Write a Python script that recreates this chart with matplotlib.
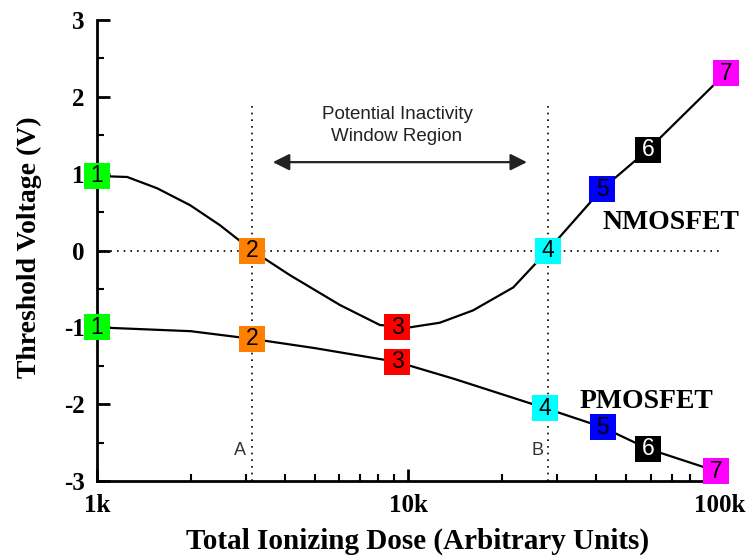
import matplotlib.pyplot as plt

plt.rcParams['axes.unicode_minus'] = False

# dose in k units
nmos_curve_x = [1.0, 1.25, 1.56, 1.99, 2.48, 3.15, 4.16, 6.03, 8.1, 10.1, 12.6, 16.1, 21.7, 28.0, 41.8, 58.7, 104.5]
nmos_curve_y = [0.97, 0.957, 0.81, 0.59, 0.33, 0.0, -0.32, -0.71, -0.97, -1.0, -0.94, -0.78, -0.48, 0.0, 0.80, 1.31, 2.31]
pmos_curve_x = [1.0, 2.0, 3.15, 5.0, 9.19, 14.0, 27.4, 42.0, 58.7, 97.0]
pmos_curve_y = [-1.0, -1.05, -1.15, -1.27, -1.45, -1.67, -2.05, -2.30, -2.58, -2.87]

nmos_pts_x = [1.0, 3.15, 9.19, 28.0, 41.8, 58.7, 104.5]
nmos_pts_y = [0.97, 0.0, -1.0, 0.0, 0.80, 1.31, 2.31]
pmos_pts_x = [1.0, 3.15, 9.19, 27.4, 42.0, 58.7, 97.0]
pmos_pts_y = [-1.0, -1.15, -1.45, -2.05, -2.30, -2.58, -2.87]
pt_labels = ['1', '2', '3', '4', '5', '6', '7']
pt_colors = ['#00ff00', '#ff8000', '#ff0000', '#00ffff', '#0000ff', '#000000', '#ff00ff']
pt_text_colors = ['black', 'black', 'black', 'black', 'black', 'white', 'black']

x_ticks = [1, 10, 100]
x_ticklabels = ['1k', '10k', '100k']
y_ticks = [-3, -2, -1, 0, 1, 2, 3]

line_a = 3.15
line_b = 28.0

fig = plt.figure(figsize=(7.5, 5.57), dpi=100)
ax = fig.add_axes([0.1293, 0.1364, 0.8307, 0.8277])

ax.set_xscale('log')
ax.set_xlim(1, 100)
ax.set_ylim(-3, 3)

# reference lines
dots = dict(color='black', lw=1.2, linestyle=(0, (1, 3)))
ax.plot([1, 100], [0, 0], **dots)
ax.plot([line_a, line_a], [-3, 1.93], **dots)
ax.plot([line_b, line_b], [-3, 1.93], **dots)

ax.plot(nmos_curve_x, nmos_curve_y, color='black', lw=1.6, clip_on=False)
ax.plot(pmos_curve_x, pmos_curve_y, color='black', lw=1.6, clip_on=False)

for xs, ys in [(nmos_pts_x, nmos_pts_y), (pmos_pts_x, pmos_pts_y)]:
    for x, y, lab, c, tc in zip(xs, ys, pt_labels, pt_colors, pt_text_colors):
        ax.plot(x, y, marker='s', markersize=19, color=c, markeredgewidth=0,
                linestyle='none', clip_on=False, zorder=5)
        ax.text(x, y, lab, ha='center', va='center', fontsize=16.5,
                family='Liberation Sans', color=tc, zorder=6, clip_on=False)

# arrow + window text
ax.annotate('', xy=(3.67, 1.15), xytext=(24.0, 1.15),
            arrowprops=dict(arrowstyle='<|-|>', color='#222222', lw=1.6,
                            mutation_scale=25, shrinkA=0, shrinkB=0))
ax.text(9.19, 1.63, 'Potential Inactivity\nWindow Region', ha='center', va='center',
        fontsize=13.5, family='Liberation Sans', color='#222222', linespacing=1.35)

ax.text(2.88, -2.6, 'A', ha='center', va='center', fontsize=13,
        family='Liberation Sans', color='#333333')
ax.text(25.9, -2.6, 'B', ha='center', va='center', fontsize=13,
        family='Liberation Sans', color='#333333')

ax.text(42.1, 0.36, 'NMOSFET', ha='left', va='center', fontsize=20,
        family='Liberation Serif', fontweight='bold')
ax.text(35.5, -1.97, 'PMOSFET', ha='left', va='center', fontsize=20,
        family='Liberation Serif', fontweight='bold')

# axes styling
ax.spines['top'].set_visible(False)
ax.spines['right'].set_visible(False)
ax.spines['left'].set_linewidth(2)
ax.spines['bottom'].set_linewidth(2)

ax.set_xticks(x_ticks)
ax.set_xticklabels(x_ticklabels)
ax.set_yticks(y_ticks)
ax.set_yticklabels([str(v) for v in y_ticks])
ax.set_yticks([-2.5, -1.5, -0.5, 0.5, 1.5, 2.5], minor=True)
ax.tick_params(which='major', direction='in', length=9, width=2, pad=9)
ax.tick_params(which='minor', direction='in', length=5, width=1.5)
ax.tick_params(axis='x', which='minor', labelbottom=False)
for lab in ax.get_xticklabels() + ax.get_yticklabels():
    lab.set_family('Liberation Serif')
    lab.set_fontweight('bold')
    lab.set_fontsize(18)

ax.set_xlabel('Total Ionizing Dose (Arbitrary Units)', family='Liberation Serif',
              fontweight='bold', fontsize=21)
ax.set_ylabel('Threshold Voltage (V)', family='Liberation Serif',
              fontweight='bold', fontsize=20)
ax.xaxis.set_label_coords(0.514, -0.102)
ax.yaxis.set_label_coords(-0.088, 0.508)

plt.savefig('out.png', dpi=100)
